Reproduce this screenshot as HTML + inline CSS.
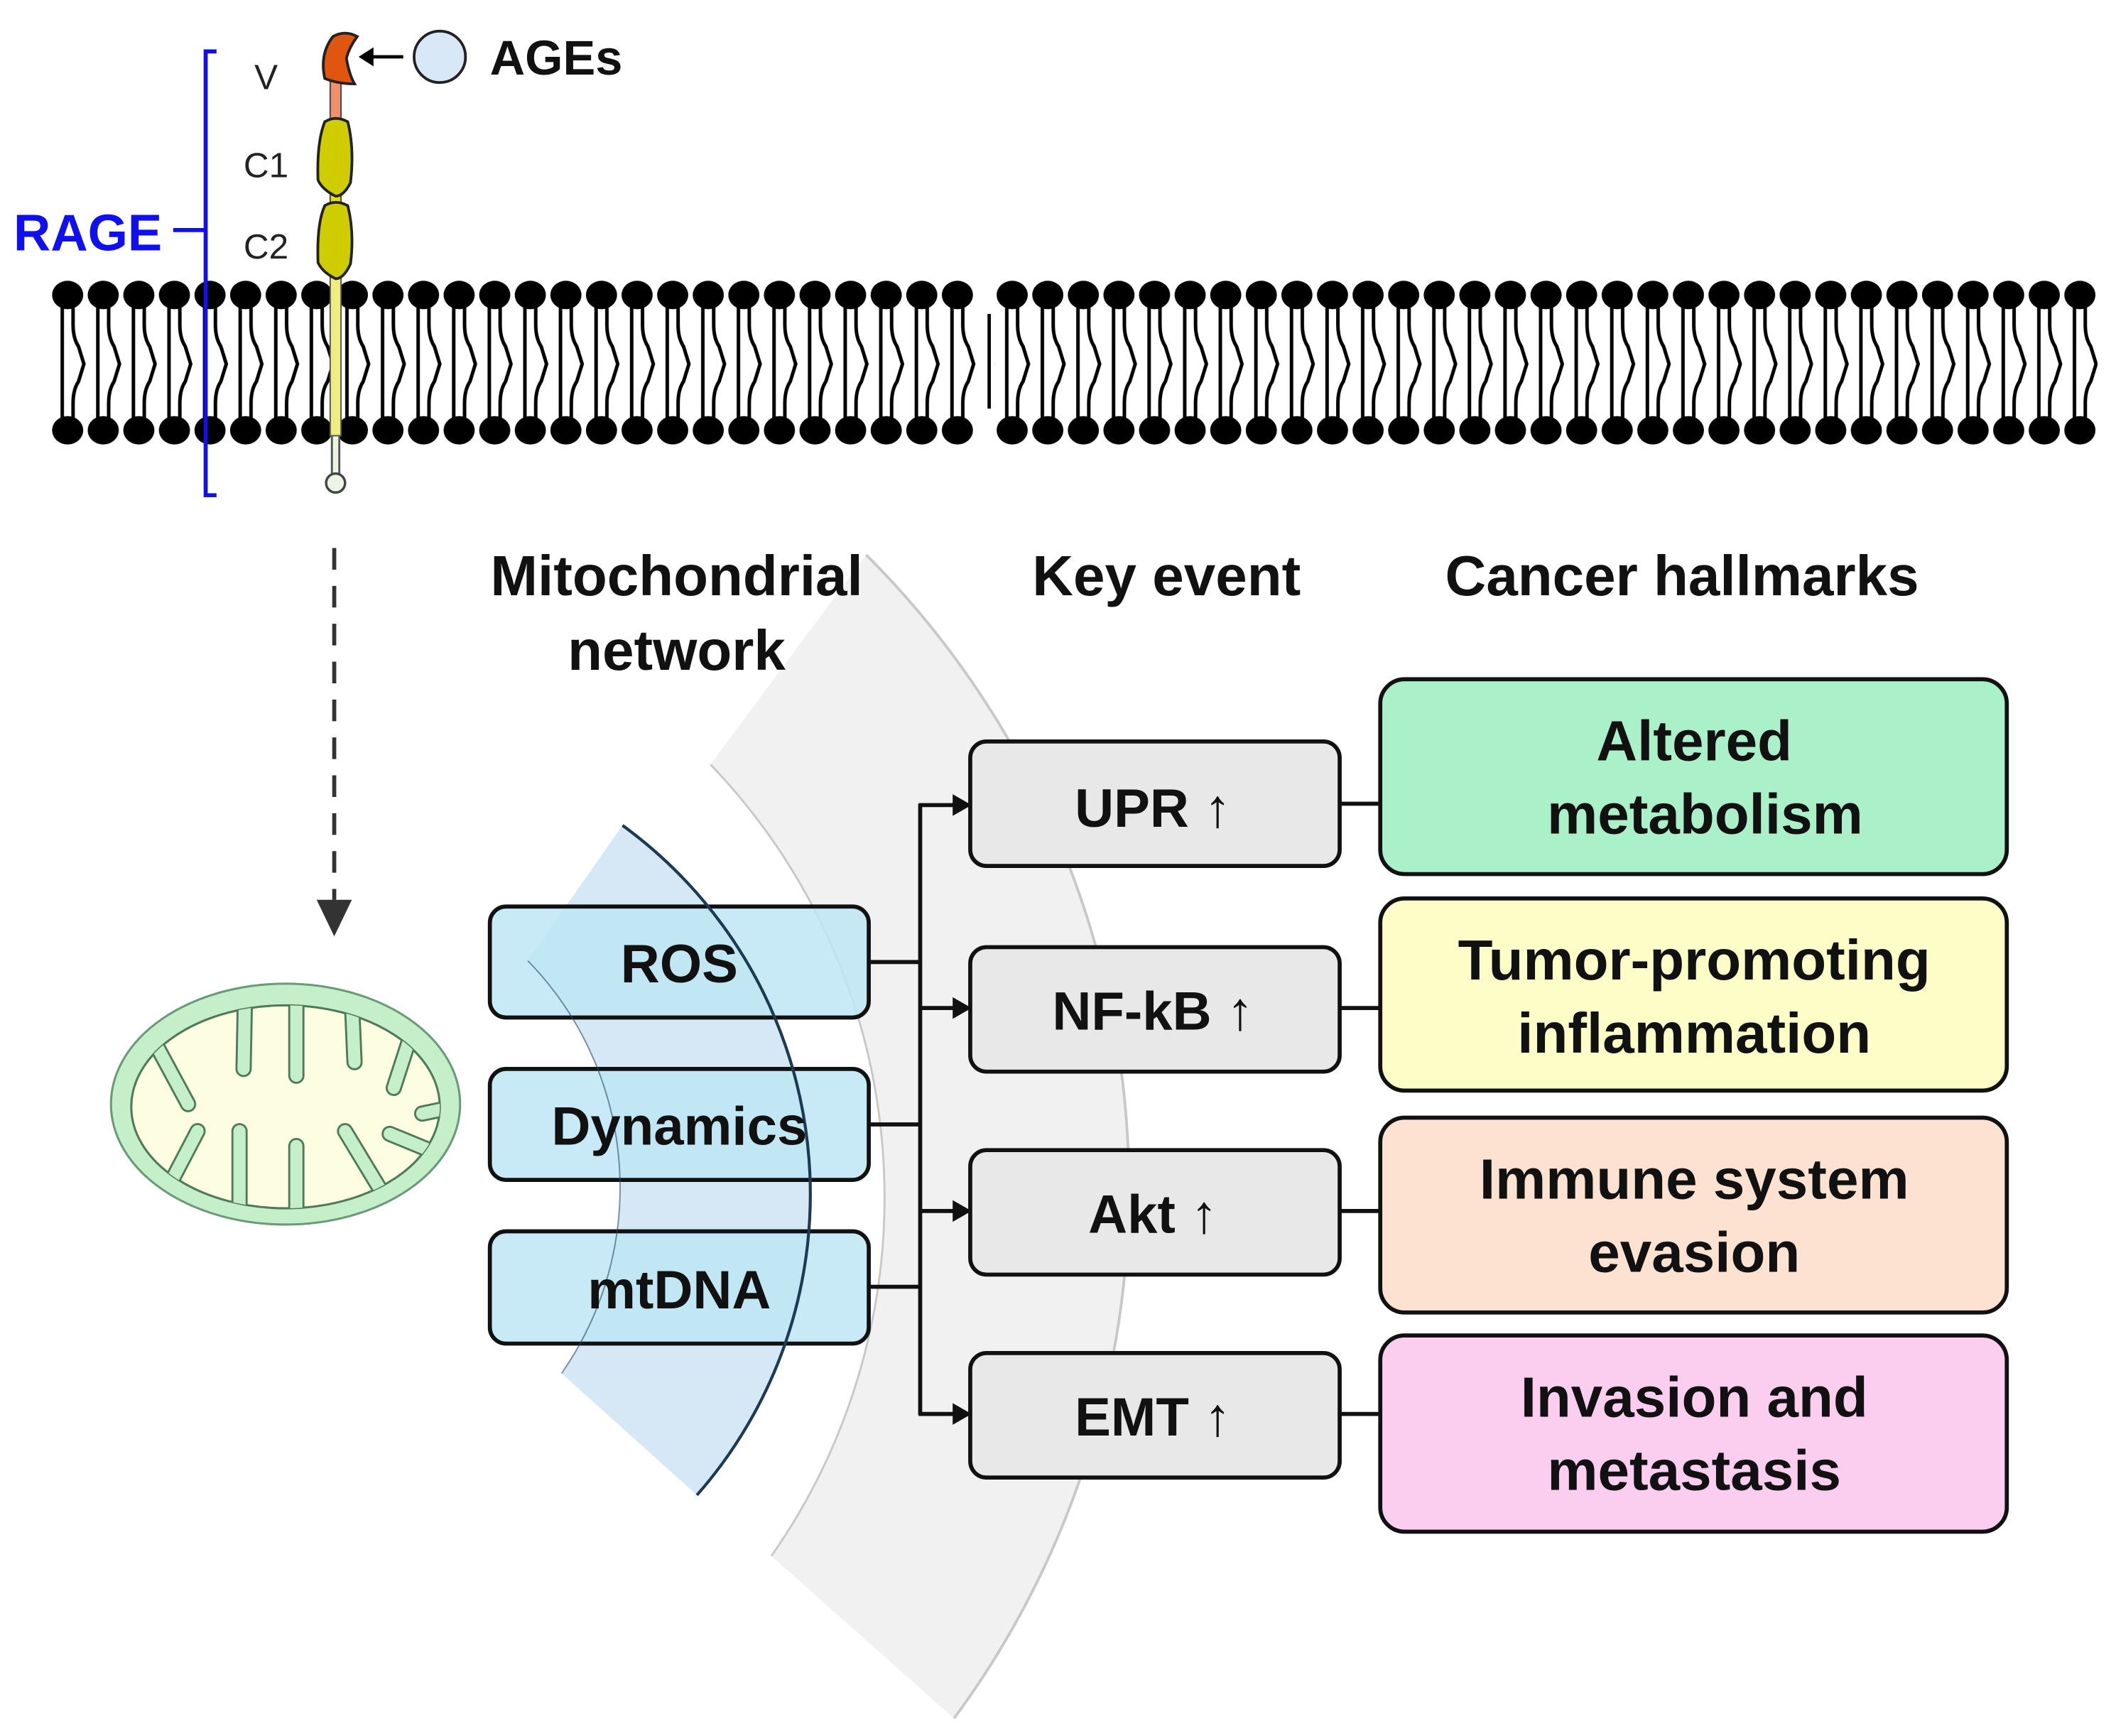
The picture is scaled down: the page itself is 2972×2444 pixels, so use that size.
<!DOCTYPE html>
<html><head><meta charset="utf-8"><style>
html,body{margin:0;padding:0;background:#fff;}
svg{display:block;}
text{font-family:"Liberation Sans","NanumGothic",sans-serif;font-weight:bold;}
</style></head><body>
<svg width="2972" height="2444" viewBox="0 0 1560 1283" preserveAspectRatio="none" xmlns="http://www.w3.org/2000/svg">
<defs>
<g id="lipid">
  <line x1="9" y1="20" x2="9" y2="110" stroke="#000" stroke-width="2.6"/>
  <path d="M17 20 L17 36 Q17 46 21 52 L25 65 L21 78 Q17 84 17 94 L17 110" fill="none" stroke="#000" stroke-width="2.6"/>
  <ellipse cx="13" cy="14" rx="11.5" ry="10.5" fill="#000"/>
  <ellipse cx="13" cy="114" rx="11.5" ry="10.5" fill="#000"/>
</g>
<pattern id="lip" x="37" y="204" width="26.3" height="130" patternUnits="userSpaceOnUse"><use href="#lipid"/></pattern>
<pattern id="lip2" x="735" y="204" width="26.3" height="130" patternUnits="userSpaceOnUse"><use href="#lipid"/></pattern>
<clipPath id="mclip"><ellipse cx="211" cy="818" rx="114" ry="75"/></clipPath>
</defs>

<!-- membrane -->
<rect x="37" y="204" width="684" height="130" fill="url(#lip)"/>
<rect x="735" y="204" width="815" height="130" fill="url(#lip2)"/>
<line x1="731" y1="232" x2="731" y2="302" stroke="#000" stroke-width="2.5"/>

<!-- RAGE bracket -->
<path d="M160 38 L152 38 L152 366 L160 366" fill="none" stroke="#1010ee" stroke-width="3"/>
<line x1="128" y1="170" x2="152" y2="170" stroke="#1010ee" stroke-width="3"/>
<text x="10" y="185" font-size="38" fill="#1010ee">RAGE</text>
<text x="188" y="66" font-size="26" fill="#222" style="font-weight:normal">V</text>
<text x="180" y="131" font-size="26" fill="#222" style="font-weight:normal">C1</text>
<text x="180" y="191" font-size="26" fill="#222" style="font-weight:normal">C2</text>

<!-- protein -->
<line x1="248" y1="320" x2="248" y2="352" stroke="#555" stroke-width="7"/>
<line x1="248" y1="320" x2="248" y2="352" stroke="#eef4e4" stroke-width="4"/>
<circle cx="248" cy="357" r="7" fill="#eef4e4" stroke="#444" stroke-width="1.8"/>
<rect x="244" y="205" width="8" height="117" fill="#eded80" stroke="#555" stroke-width="1"/>
<rect x="244" y="60" width="8" height="32" fill="#f0906a" stroke="#444" stroke-width="1"/>
<rect x="244" y="140" width="8" height="16" fill="#e8e000" stroke="#444" stroke-width="1"/>
<path d="M240 90 Q248 85 257 90 Q262 110 259 135 Q254 145 248 145 Q238 140 235 133 Q234 105 240 90Z" fill="#cfcc00" stroke="#222" stroke-width="2"/>
<path d="M240 152 Q248 147 257 152 Q262 172 259 195 Q254 206 248 206 Q238 201 235 194 Q234 165 240 152Z" fill="#cfcc00" stroke="#222" stroke-width="2"/>
<path d="M246 27 Q255 22 264 27 Q258 35 256 43 Q258 55 262 62 Q250 62 240 58 Q236 40 246 27Z" fill="#e05510" stroke="#222" stroke-width="2"/>
<line x1="298" y1="42" x2="272" y2="42" stroke="#000" stroke-width="2.5"/>
<path d="M265 42 L276 35 L276 49Z" fill="#000"/>
<circle cx="325" cy="42" r="19" fill="#d8e8f6" stroke="#222" stroke-width="2"/>
<text x="362" y="55" font-size="36" fill="#111">AGEs</text>

<!-- dashed arrow -->
<line x1="247" y1="405" x2="247" y2="665" stroke="#333" stroke-width="3" stroke-dasharray="16,12"/>
<path d="M234 665 L260 665 L247 692Z" fill="#333"/>

<!-- mitochondrion -->
<ellipse cx="211" cy="816" rx="129" ry="89" fill="#c4efc8" stroke="#6a9a78" stroke-width="1.6"/>
<ellipse cx="211" cy="818" rx="114" ry="75" fill="#fdfde2" stroke="#4f7a5a" stroke-width="1.6"/>
<g stroke-linecap="round" fill="none" clip-path="url(#mclip)">
<g stroke="#4f7a5a" stroke-width="12">
<path d="M112 766 L139 816"/><path d="M181 738 L180 790"/><path d="M219 735 L219 795"/><path d="M260 739 L262 785"/><path d="M302 770 L291 804"/><path d="M336 818 L312 823"/>
<path d="M146 836 L123 880"/><path d="M177 836 L177 895"/><path d="M219 847 L219 900"/><path d="M255 836 L284 884"/><path d="M288 838 L322 852"/>
</g>
<g stroke="#c4efc8" stroke-width="9">
<path d="M112 766 L139 816"/><path d="M181 738 L180 790"/><path d="M219 735 L219 795"/><path d="M260 739 L262 785"/><path d="M302 770 L291 804"/><path d="M336 818 L312 823"/>
<path d="M146 836 L123 880"/><path d="M177 836 L177 895"/><path d="M219 847 L219 900"/><path d="M255 836 L284 884"/><path d="M288 838 L322 852"/>
</g>
</g>

<!-- gray wedge -->
<path d="M640 410 A660 660 0 0 1 705 1270 L570 1150 A462 462 0 0 0 525 565 Z" fill="#f1f1f1"/>
<path d="M640 410 A660 660 0 0 1 705 1270" fill="none" stroke="#c8c8c8" stroke-width="2"/>
<path d="M525 565 A462 462 0 0 1 570 1150" fill="none" stroke="#c8c8c8" stroke-width="1.5"/>

<!-- blue wedge -->
<path d="M460 610 A337 337 0 0 1 515 1105 L415 1015 A240 240 0 0 0 390 710 Z" fill="#d6e8f6"/>

<!-- headers -->
<g font-size="42" fill="#111" text-anchor="middle">
<text x="500" y="440">Mitochondrial</text>
<text x="500" y="495">network</text>
<text x="862" y="440">Key event</text>
<text x="1243" y="440">Cancer hallmarks</text>
</g>

<!-- blue boxes -->
<g stroke="#111" stroke-width="3" fill="#bde6f5" fill-opacity="0.85">
<rect x="362" y="670" width="280" height="82" rx="12"/>
<rect x="362" y="790" width="280" height="82" rx="12"/>
<rect x="362" y="910" width="280" height="83" rx="12"/>
</g>
<path d="M460 610 A337 337 0 0 1 515 1105" fill="none" stroke="#1c3a52" stroke-width="2.2"/>
<path d="M390 710 A240 240 0 0 1 415 1015" fill="none" stroke="#2a4a60" stroke-width="1" stroke-opacity="0.6"/>
<g font-size="40" fill="#111" text-anchor="middle">
<text x="502" y="726">ROS</text>
<text x="502" y="846">Dynamics</text>
<text x="502" y="967">mtDNA</text>
</g>

<!-- connectors -->
<g stroke="#111" stroke-width="3" fill="none">
<line x1="642" y1="711" x2="680" y2="711"/>
<line x1="642" y1="831" x2="680" y2="831"/>
<line x1="642" y1="951" x2="680" y2="951"/>
<line x1="680" y1="594" x2="680" y2="1046"/>
<line x1="679" y1="595" x2="706" y2="595"/>
<line x1="679" y1="745" x2="706" y2="745"/>
<line x1="679" y1="895" x2="706" y2="895"/>
<line x1="679" y1="1045" x2="706" y2="1045"/>
<line x1="990" y1="594" x2="1020" y2="594"/>
<line x1="990" y1="745" x2="1020" y2="745"/>
<line x1="990" y1="895" x2="1020" y2="895"/>
<line x1="990" y1="1045" x2="1020" y2="1045"/>
</g>
<g fill="#111">
<path d="M718 595 L704 587 L704 603Z"/><path d="M718 745 L704 737 L704 753Z"/>
<path d="M718 895 L704 887 L704 903Z"/><path d="M718 1045 L704 1037 L704 1053Z"/>
</g>

<!-- key event boxes -->
<g stroke="#111" stroke-width="3" fill="#e8e8e8">
<rect x="717" y="548" width="273" height="92" rx="12"/>
<rect x="717" y="700" width="273" height="92" rx="12"/>
<rect x="717" y="850" width="273" height="92" rx="12"/>
<rect x="717" y="1000" width="273" height="92" rx="12"/>
</g>
<g font-size="40" fill="#111" text-anchor="middle">
<text x="852" y="611">UPR <tspan style="font-weight:normal">↑</tspan></text>
<text x="852" y="761">NF-kB <tspan style="font-weight:normal">↑</tspan></text>
<text x="852" y="911">Akt <tspan style="font-weight:normal">↑</tspan></text>
<text x="852" y="1061">EMT <tspan style="font-weight:normal">↑</tspan></text>
</g>

<!-- hallmark boxes -->
<g stroke="#111" stroke-width="3">
<rect x="1020" y="502" width="463" height="144" rx="18" fill="#aaf0c8"/>
<rect x="1020" y="664" width="463" height="142" rx="18" fill="#fdfdc8"/>
<rect x="1020" y="826" width="463" height="144" rx="18" fill="#fde2d2"/>
<rect x="1020" y="987" width="463" height="145" rx="18" fill="#fbcdef"/>
</g>
<g font-size="42" fill="#111" text-anchor="middle">
<text x="1252" y="562">Altered</text>
<text x="1260" y="616">metabolism</text>
<text x="1252" y="724">Tumor-promoting</text>
<text x="1252" y="778">inflammation</text>
<text x="1252" y="886">Immune  system</text>
<text x="1252" y="940">evasion</text>
<text x="1252" y="1047">Invasion and</text>
<text x="1252" y="1101">metastasis</text>
</g>
</svg>
</body></html>
